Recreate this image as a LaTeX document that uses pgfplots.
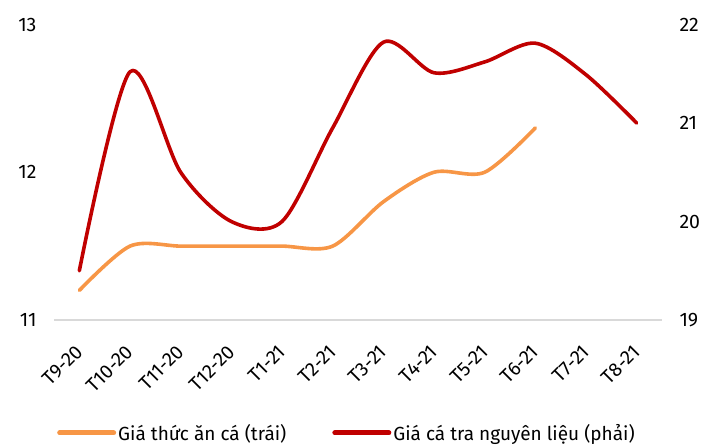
\documentclass[border=0pt]{standalone}
\usepackage{fontspec}
\setmainfont{Fira Sans}
\usepackage{pgfplots}
\pgfplotsset{compat=1.18}
\definecolor{cam}{HTML}{F79646}
\definecolor{doduoi}{HTML}{C00000}
\definecolor{truc}{HTML}{D9D9D9}

\pgfplotsset{
  chung/.style={
    at={(54bp,128bp)}, anchor=south west,
    scale only axis, width=608bp, height=295.5bp,
    xmin=-0.5, xmax=11.5,
    y axis line style={draw=none},
    ytick style={draw=none},
    tick label style={font=\fontsize{19.5bp}{22bp}\selectfont},
    /pgf/number format/assume math mode=true,
  },
  duong/.style={smooth, tension=0.5, line width=3.6bp, line cap=round, line join=round},
}

\begin{document}
\begin{tikzpicture}
\useasboundingbox (0,0) rectangle (708bp,448bp);
% truc trai: gia thuc an ca
\begin{axis}[chung,
  ymin=11, ymax=13, ytick={11,12,13},
  axis x line*=bottom, axis y line*=left,
  x axis line style={draw=truc, line width=1.2bp, -},
  xtick={0,...,11},
  xticklabels={T9-20,T10-20,T11-20,T12-20,T1-21,T2-21,T3-21,T4-21,T5-21,T6-21,T7-21,T8-21},
  xtick style={draw=none},
  xticklabel style={xshift=-5bp, yshift=-19bp, rotate=45, anchor=north east},
  extra x ticks={-0.5,0.5,...,11.5},
  extra x tick labels={},
  extra x tick style={tick style={draw=truc, line width=1.2bp}, major tick length=7bp, tick align=outside},
  yticklabel style={xshift=-14bp},
]
\addplot[duong, cam] coordinates {
  (0,11.2) (1,11.5) (2,11.5) (3,11.5) (4,11.5) (5,11.5)
  (6,11.8) (7,12.0) (8,12.0) (9,12.3)
};
\end{axis}
% truc phai: gia ca tra nguyen lieu
\begin{axis}[chung,
  ymin=19, ymax=22, ytick={19,20,21,22},
  axis y line*=right, hide x axis,
  yticklabel style={xshift=14bp},
  legend columns=2,
  legend cell align=left,
  legend style={at={(0.0,-0.382)}, anchor=west, draw=none, fill=none,
    font=\fontsize{19bp}{22bp}\selectfont,
    /tikz/every even column/.append style={column sep=44bp}},
  legend image code/.code={\draw[#1, line width=5bp, line cap=round] (0bp,0bp) -- (54bp,0bp);},
]
\addlegendimage{duong, cam}
\addlegendentry{Giá thức ăn cá (trái)}
\addplot[duong, doduoi] coordinates {
  (0,19.5) (1,21.52) (2,20.5) (3,20.0) (4,20.0) (5,20.95)
  (6,21.82) (7,21.51) (8,21.62) (9,21.81) (10,21.49) (11,21.0)
};
\addlegendentry{Giá cá tra nguyên liệu (phải)}
\end{axis}
\end{tikzpicture}
\end{document}
